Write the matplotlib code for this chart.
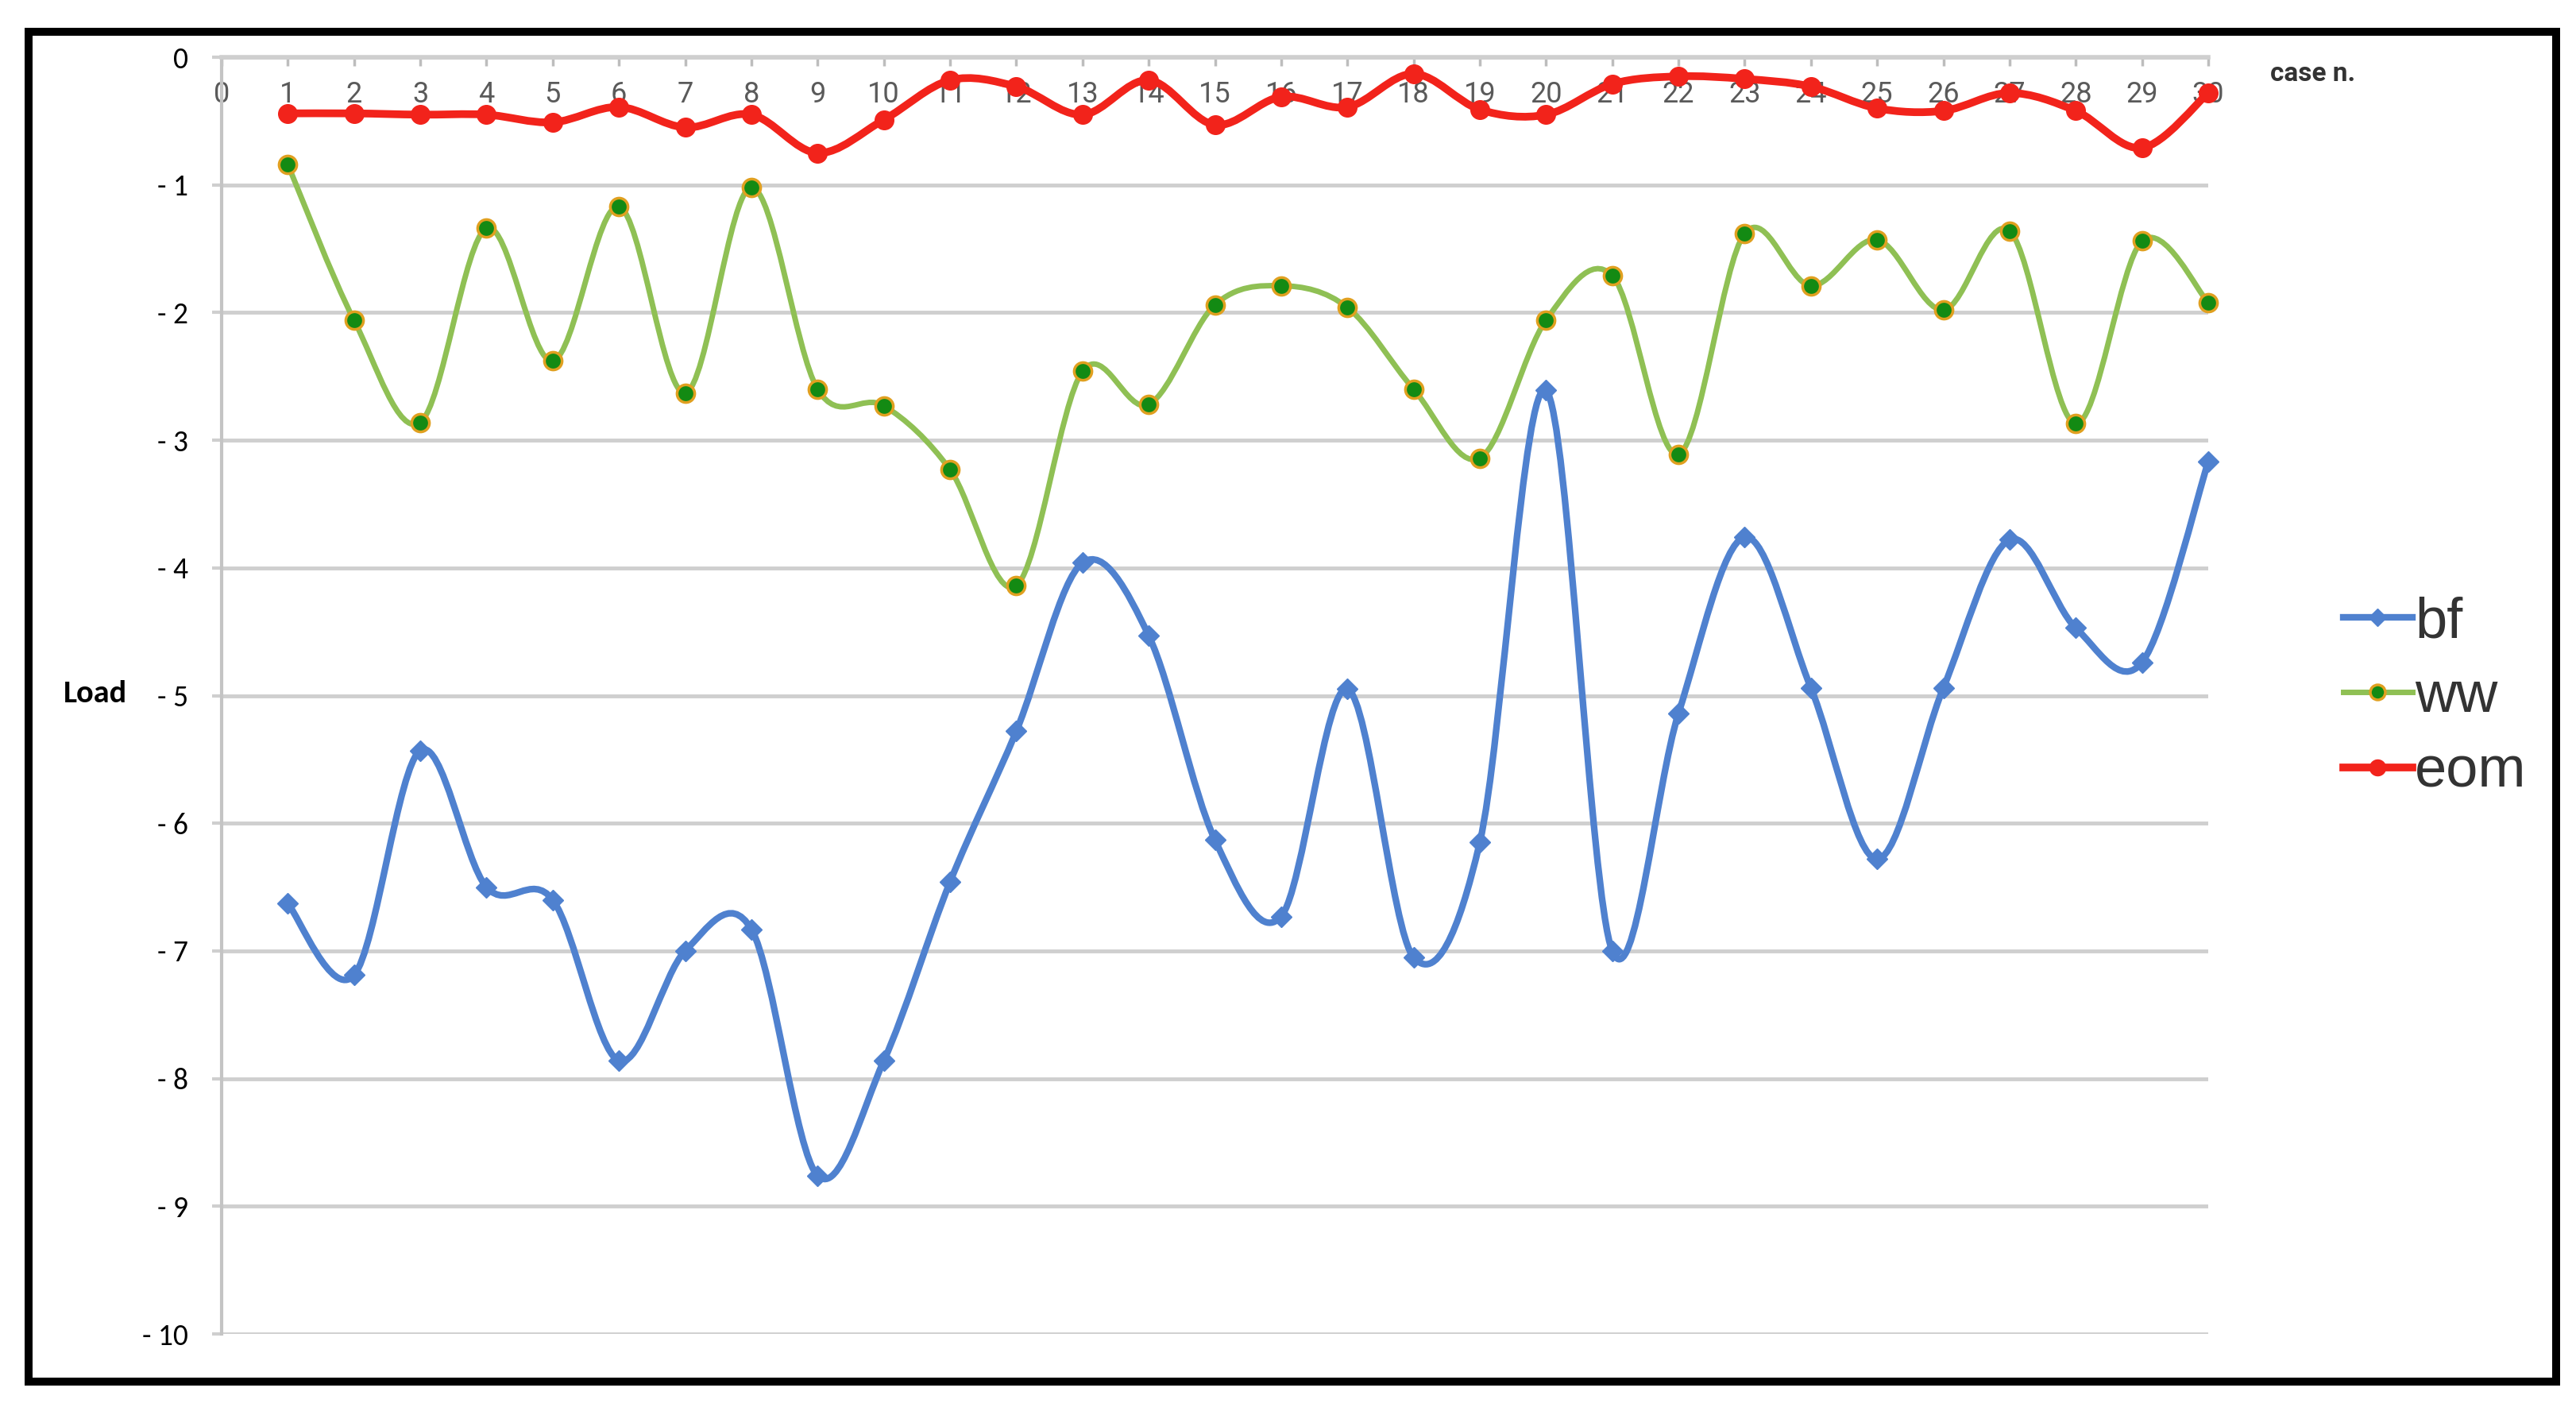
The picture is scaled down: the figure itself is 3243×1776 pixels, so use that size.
"""Load per case: bf / ww / eom, Excel-style smoothed line chart."""

import matplotlib
matplotlib.use("Agg")
import matplotlib.pyplot as plt
from matplotlib import font_manager
from matplotlib.lines import Line2D
from matplotlib.patches import PathPatch, Rectangle
from matplotlib.path import Path

cases = list(range(1, 31))
xtick_labels = [str(i) for i in range(0, 31)]
ytick_values = [0, -1, -2, -3, -4, -5, -6, -7, -8, -9, -10]
ytick_labels = ["0", "- 1", "- 2", "- 3", "- 4", "- 5", "- 6", "- 7", "- 8", "- 9", "- 10"]

bf = [-6.63, -7.19, -5.43, -6.50, -6.60, -7.86, -7.00, -6.83, -8.76, -7.86,
      -6.46, -5.28, -3.96, -4.53, -6.13, -6.73, -4.95, -7.05, -6.15, -2.61,
      -7.00, -5.14, -3.76, -4.94, -6.28, -4.94, -3.78, -4.47, -4.74, -3.17]
ww = [-0.84, -2.06, -2.86, -1.34, -2.38, -1.17, -2.63, -1.02, -2.60, -2.73,
      -3.23, -4.14, -2.46, -2.72, -1.94, -1.79, -1.96, -2.60, -3.14, -2.06,
      -1.71, -3.11, -1.38, -1.79, -1.43, -1.98, -1.36, -2.87, -1.44, -1.92]
eom = [-0.44, -0.44, -0.45, -0.45, -0.51, -0.39, -0.55, -0.45, -0.75, -0.49,
       -0.18, -0.23, -0.45, -0.18, -0.53, -0.31, -0.39, -0.13, -0.41, -0.45,
       -0.21, -0.15, -0.17, -0.23, -0.40, -0.42, -0.28, -0.42, -0.71, -0.28]

W, H = 3243, 1776


def pick_font(candidates):
    names = {f.name for f in font_manager.fontManager.ttflist}
    for c in candidates:
        if c in names:
            return c
    return "DejaVu Sans"


NARROW = pick_font(["Liberation Sans Narrow", "DejaVu Sans Condensed", "Roboto", "DejaVu Sans"])
CALIBRI = pick_font(["Carlito", "Lato", "Open Sans", "DejaVu Sans"])
ARIAL = pick_font(["Liberation Sans", "Arial", "DejaVu Sans"])


def smooth_path(xs, ys, t=1.0 / 6):
    # cubic bezier through the points, like Excel's "smoothed line"
    n = len(xs)
    verts = [(xs[0], ys[0])]
    codes = [Path.MOVETO]
    for i in range(n - 1):
        a = max(i - 1, 0)
        d = min(i + 2, n - 1)
        c1 = (xs[i] + (xs[i + 1] - xs[a]) * t, ys[i] + (ys[i + 1] - ys[a]) * t)
        c2 = (xs[i + 1] - (xs[d] - xs[i]) * t, ys[i + 1] - (ys[d] - ys[i]) * t)
        verts += [c1, c2, (xs[i + 1], ys[i + 1])]
        codes += [Path.CURVE4] * 3
    return Path(verts, codes)


series = [
    ("bf", bf, dict(color="#4f81cf", lw=6.0, marker="D", ms=13,
                    mfc="#4f81cf", mec="#4f81cf", mew=1)),
    ("ww", ww, dict(color="#8fc054", lw=5.0, marker="o", ms=16,
                    mfc="#138a13", mec="#e0a020", mew=2.5)),
    ("eom", eom, dict(color="#f2231b", lw=7.0, marker="o", ms=17,
                      mfc="#f2231b", mec="#f2231b", mew=1)),
]

fig = plt.figure(figsize=(W / 100, H / 100), dpi=100)
left, right, top, bottom = 279, 2780, 72, 1679
ax = fig.add_axes([left / W, 1 - bottom / H, (right - left) / W, (bottom - top) / H])
ax.set_xlim(0, 30)
ax.set_ylim(-10, 0)
ax.set_axisbelow(True)

grid_c = "#cfcfcf"
ax.yaxis.grid(True, color=grid_c, lw=3.5)
for s in ["right", "bottom"]:
    ax.spines[s].set_visible(False)
ax.spines["top"].set_color(grid_c)
ax.spines["top"].set_linewidth(4)
ax.spines["left"].set_color("#c4c4c4")
ax.spines["left"].set_linewidth(3)

ax.xaxis.tick_top()
ax.set_xticks(range(0, 31))
ax.set_xticklabels(xtick_labels, fontsize=26, color="#5a5a5a", family=NARROW)
ax.tick_params(axis="x", direction="in", length=8, width=2.5, color="#bdbdbd", pad=-47)

ax.set_yticks(ytick_values)
ax.set_yticklabels(ytick_labels, fontsize=27, family=CALIBRI)
ax.tick_params(axis="y", direction="out", length=9, width=3, color=grid_c, pad=21)

handles = []
for i, (name, vals, st) in enumerate(series):
    z = 3 + i
    ax.add_patch(PathPatch(smooth_path(cases, vals), fill=False, edgecolor=st["color"],
                           lw=st["lw"], capstyle="round", joinstyle="round", zorder=z))
    ax.plot(cases, vals, linestyle="none", marker=st["marker"], ms=st["ms"],
            mfc=st["mfc"], mec=st["mec"], mew=st["mew"], zorder=z + 0.5, clip_on=False)
    handles.append(Line2D([], [], color=st["color"], lw=st["lw"], marker=st["marker"],
                          ms=st["ms"] * 0.85, mfc=st["mfc"], mec=st["mec"], mew=st["mew"],
                          label=name))

leg = fig.legend(handles=handles, loc="upper left",
                 bbox_to_anchor=(2950 / W, 1 - 750 / H), bbox_transform=fig.transFigure,
                 frameon=False, borderpad=0, borderaxespad=0, handlelength=1.2,
                 handletextpad=0.05, labelspacing=0.38,
                 prop={"family": ARIAL, "size": 52})
for t in leg.get_texts():
    t.set_color("#333333")

fig.text(80 / W, 1 - 873 / H, "Load", fontsize=29, fontweight="bold",
         family=CALIBRI, va="center", ha="left")
fig.text(2858 / W, 1 - 93 / H, "case n.", fontsize=24, fontweight="bold",
         family=NARROW, color="#333333", va="center", ha="left")

# black frame around the whole picture
fig.add_artist(Rectangle((36 / W, 1 - 1739 / H), (3218 - 36) / W, (1739 - 40) / H,
                         transform=fig.transFigure, fill=False, edgecolor="black",
                         lw=7.2))

fig.savefig("out.png", dpi=100)
